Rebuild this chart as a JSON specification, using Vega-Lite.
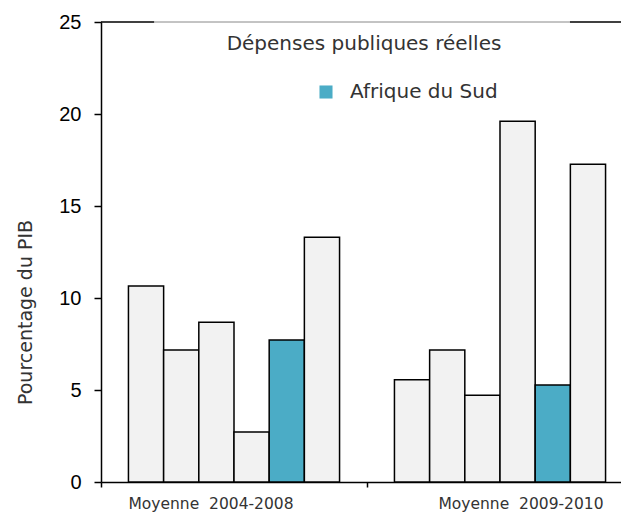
{
  "$schema": "https://vega.github.io/schema/vega-lite/v6.json",
  "autosize": {"type": "none"},
  "padding": {"left": 101, "top": 22, "right": 0, "bottom": 33},
  "width": 532,
  "height": 460,
  "config": {
    "view": {"stroke": null},
    "font": "DejaVu Sans"
  },
  "data": {
    "values": [
      {"periode": "Moyenne\u00a0\u00a02004-2008", "idx": 1, "valeur": 10.65, "pays": "Autre"},
      {"periode": "Moyenne\u00a0\u00a02004-2008", "idx": 2, "valeur": 7.17, "pays": "Autre"},
      {"periode": "Moyenne\u00a0\u00a02004-2008", "idx": 3, "valeur": 8.68, "pays": "Autre"},
      {"periode": "Moyenne\u00a0\u00a02004-2008", "idx": 4, "valeur": 2.72, "pays": "Autre"},
      {"periode": "Moyenne\u00a0\u00a02004-2008", "idx": 5, "valeur": 7.72, "pays": "Afrique du Sud"},
      {"periode": "Moyenne\u00a0\u00a02004-2008", "idx": 6, "valeur": 13.3, "pays": "Autre"},
      {"periode": "Moyenne\u00a0\u00a02009-2010", "idx": 1, "valeur": 5.56, "pays": "Autre"},
      {"periode": "Moyenne\u00a0\u00a02009-2010", "idx": 2, "valeur": 7.17, "pays": "Autre"},
      {"periode": "Moyenne\u00a0\u00a02009-2010", "idx": 3, "valeur": 4.71, "pays": "Autre"},
      {"periode": "Moyenne\u00a0\u00a02009-2010", "idx": 4, "valeur": 19.6, "pays": "Autre"},
      {"periode": "Moyenne\u00a0\u00a02009-2010", "idx": 5, "valeur": 5.27, "pays": "Afrique du Sud"},
      {"periode": "Moyenne\u00a0\u00a02009-2010", "idx": 6, "valeur": 17.27, "pays": "Autre"}
    ]
  },
  "layer": [
    {
      "mark": {"type": "bar", "stroke": "#000000", "strokeWidth": 1.5},
      "encoding": {
        "x": {
          "field": "periode",
          "type": "nominal",
          "sort": null,
          "scale": {"paddingInner": 0, "paddingOuter": 0},
          "axis": {
            "title": null,
            "bandPosition": 0,
            "domainColor": "#000000",
            "domainWidth": 1.5,
            "tickColor": "#000000",
            "tickWidth": 1.5,
            "tickSize": 5,
            "labelAngle": 0,
            "labelFont": "DejaVu Sans",
            "labelFontSize": 15.5,
            "labelColor": "#333333",
            "labelPadding": 9,
            "labelOffset": {"condition": {"test": "indexof(datum.label, '2004') >= 0", "value": -23}, "value": 21}
          }
        },
        "xOffset": {
          "field": "idx",
          "type": "ordinal",
          "scale": {"paddingInner": 0, "paddingOuter": 0.78}
        },
        "y": {
          "field": "valeur",
          "type": "quantitative",
          "scale": {"domain": [0, 25], "nice": false},
          "axis": {
            "values": [0, 5, 10, 15, 20, 25],
            "grid": false,
            "title": "Pourcentage du PIB",
            "titleFont": "DejaVu Sans",
            "titleFontSize": 19,
            "titleFontWeight": "normal",
            "titleColor": "#333333",
            "titleAngle": 270,
            "titleX": -76,
            "titleY": 290,
            "titleAlign": "center",
            "titleBaseline": "middle",
            "domainColor": "#000000",
            "domainWidth": 1.5,
            "tickColor": "#000000",
            "tickWidth": 1.5,
            "tickSize": 7,
            "labelFont": "Liberation Sans",
            "labelFontSize": 20,
            "labelColor": "#000000",
            "labelPadding": 13
          }
        },
        "color": {
          "field": "pays",
          "type": "nominal",
          "scale": {"domain": ["Afrique du Sud", "Autre"], "range": ["#4BACC6", "#F2F2F2"]},
          "legend": {
            "values": ["Afrique du Sud"],
            "title": null,
            "orient": "none",
            "legendX": 215,
            "legendY": 60,
            "symbolType": "square",
            "symbolSize": 170,
            "symbolStrokeWidth": 0,
            "symbolOpacity": 1,
            "labelFont": "DejaVu Sans",
            "labelFontSize": 20,
            "labelColor": "#333333",
            "labelOffset": 14
          }
        }
      }
    },
    {
      "data": {"values": [{}]},
      "mark": {"type": "rule", "color": "#000000", "strokeWidth": 1.5},
      "encoding": {
        "y": {"datum": 25, "type": "quantitative"},
        "x": {"datum": "Moyenne\u00a0\u00a02004-2008", "type": "nominal", "bandPosition": 0},
        "x2": {"datum": "Moyenne\u00a0\u00a02004-2008", "bandPosition": 0.2}
      }
    },
    {
      "data": {"values": [{}]},
      "mark": {"type": "rule", "color": "#888888", "strokeWidth": 1},
      "encoding": {
        "y": {"datum": 25, "type": "quantitative"},
        "x": {"datum": "Moyenne\u00a0\u00a02004-2008", "type": "nominal", "bandPosition": 0.2},
        "x2": {"datum": "Moyenne\u00a0\u00a02009-2010", "bandPosition": 0.763}
      }
    },
    {
      "data": {"values": [{}]},
      "mark": {"type": "rule", "color": "#000000", "strokeWidth": 1.5},
      "encoding": {
        "y": {"datum": 25, "type": "quantitative"},
        "x": {"datum": "Moyenne\u00a0\u00a02009-2010", "type": "nominal", "bandPosition": 0.763},
        "x2": {"datum": "Moyenne\u00a0\u00a02009-2010", "bandPosition": 1}
      }
    },
    {
      "data": {"values": [{"titre": "Dépenses publiques réelles"}]},
      "mark": {
        "type": "text",
        "font": "DejaVu Sans",
        "fontSize": 20,
        "color": "#333333",
        "align": "center",
        "baseline": "alphabetic",
        "dx": -3
      },
      "encoding": {
        "text": {"field": "titre", "type": "nominal"},
        "x": {"datum": "Moyenne\u00a0\u00a02004-2008", "type": "nominal", "bandPosition": 1},
        "y": {"datum": 23.5, "type": "quantitative"}
      }
    }
  ]
}
